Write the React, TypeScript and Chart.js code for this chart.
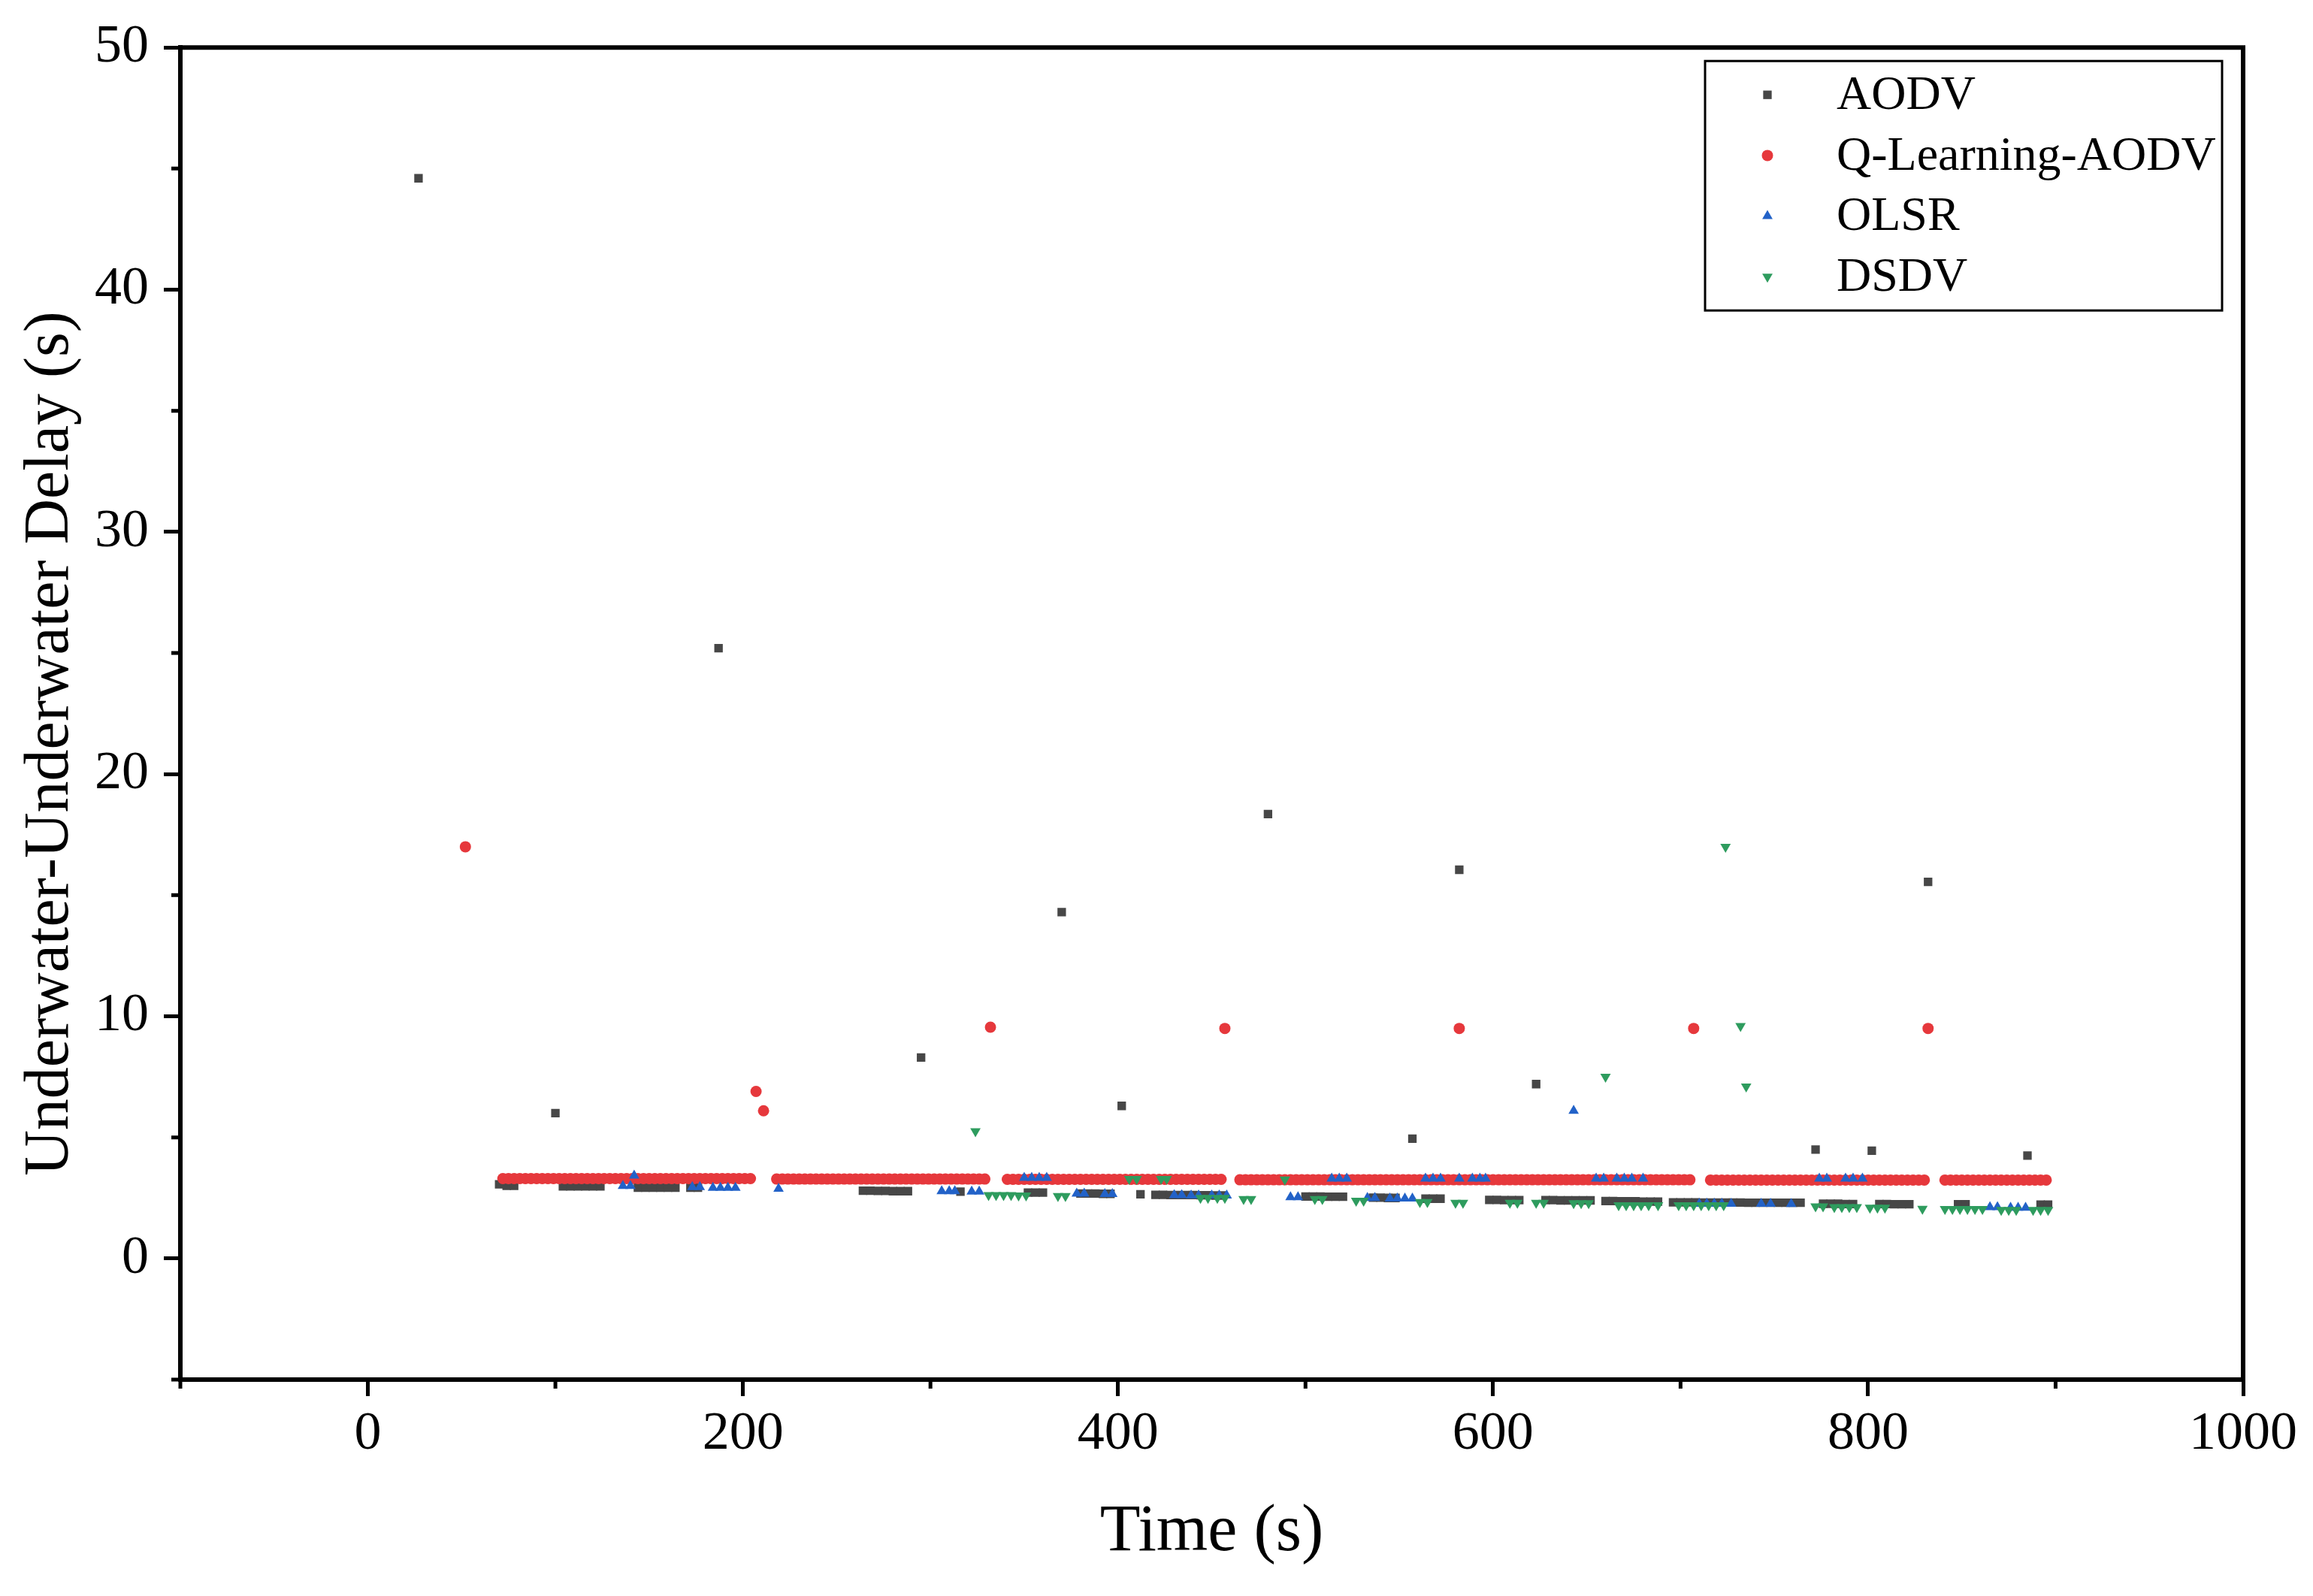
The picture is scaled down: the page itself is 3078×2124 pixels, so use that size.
import { useEffect, useRef } from "react"
import { Chart, registerables, type ChartConfiguration, type Plugin } from "chart.js"
import { drawPoint } from "chart.js/helpers"

Chart.register(...registerables)

// tick values
const xTicks = [0, 200, 400, 600, 800, 1000]
const xMinorTicks = [-100, 100, 300, 500, 700, 900]
const yTicks = [0, 10, 20, 30, 40, 50]
const yMinorTicks = [-5, 5, 15, 25, 35, 45]

// [time (s), delay (s)]
const aodvPoints: number[][] = [
  [27, 44.6], [100, 6.0], [187, 25.2], [295, 8.3], [370, 14.3], [402, 6.3], [480, 18.35],
  [557, 4.95], [582, 16.05], [623, 7.2], [772, 4.5], [802, 4.45], [832, 15.55], [885, 4.25],
  [70, 3.06], [74, 3.0], [78, 3.0],
  [104, 2.98], [108, 2.98], [112, 2.98], [116, 2.98], [120, 2.98], [124, 2.98],
  [144, 2.92], [148, 2.92], [152, 2.92], [156, 2.92], [160, 2.92], [164, 2.92], [172, 2.92], [176, 2.92],
  [264, 2.8], [268, 2.8], [272, 2.79], [276, 2.79], [280, 2.78], [284, 2.78], [288, 2.78],
  [316, 2.76], [352, 2.72], [356, 2.72], [360, 2.72],
  [380, 2.68], [384, 2.68], [388, 2.68], [392, 2.67], [396, 2.67], [412, 2.65],
  [420, 2.63], [424, 2.63], [428, 2.62], [432, 2.62], [436, 2.62], [440, 2.62], [444, 2.61], [448, 2.61],
  [452, 2.6], [456, 2.6],
  [500, 2.56], [504, 2.56], [508, 2.56], [512, 2.55], [516, 2.55], [520, 2.55],
  [536, 2.51], [540, 2.51], [544, 2.5], [548, 2.5], [564, 2.47], [568, 2.47], [572, 2.47],
  [598, 2.42], [602, 2.42], [606, 2.41], [610, 2.41], [614, 2.41],
  [628, 2.41], [632, 2.41], [636, 2.4], [640, 2.4], [644, 2.4], [648, 2.4], [652, 2.4],
  [660, 2.37], [664, 2.37], [668, 2.36], [672, 2.36], [676, 2.36], [680, 2.35], [684, 2.35], [688, 2.35],
  [696, 2.32], [700, 2.32], [704, 2.32], [708, 2.32], [712, 2.31], [716, 2.31], [720, 2.31], [724, 2.31],
  [728, 2.31], [732, 2.31], [736, 2.3], [740, 2.3], [744, 2.3], [748, 2.3], [752, 2.3], [756, 2.3],
  [760, 2.3], [764, 2.3],
  [776, 2.26], [780, 2.26], [784, 2.26], [788, 2.25], [792, 2.25],
  [806, 2.25], [810, 2.25], [814, 2.24], [818, 2.24], [822, 2.24], [848, 2.24], [852, 2.24],
  [892, 2.22], [896, 2.22],
]

// Q-Learning-AODV isolated peaks
const qlAodvPeaks: number[][] = [
  [52, 17.0], [207, 6.9], [211, 6.1], [332, 9.55], [457, 9.5], [582, 9.5], [707, 9.5], [832, 9.5],
]

// Q-Learning-AODV steady runs: sample times per run, and the delay of each run
const qlBandTimes: number[][] = [
  [72, 75, 78, 81, 84, 87, 90, 93, 96, 99, 102, 105, 108, 111, 114, 117, 120, 123, 126, 129, 132, 135,
    138, 141, 144, 147, 150, 153, 156, 159, 162, 165, 168, 171, 174, 177, 180, 183, 186, 189, 192, 195,
    198, 201, 204],
  [218, 221, 224, 227, 230, 233, 236, 239, 242, 245, 248, 251, 254, 257, 260, 263, 266, 269, 272, 275,
    278, 281, 284, 287, 290, 293, 296, 299, 302, 305, 308, 311, 314, 317, 320, 323, 326, 329],
  [341, 344, 347, 350, 353, 356, 359, 362, 365, 368, 371, 374, 377, 380, 383, 386, 389, 392, 395, 398,
    401, 404, 407, 410, 413, 416, 419, 422, 425, 428, 431, 434, 437, 440, 443, 446, 449, 452, 455],
  [465, 468, 471, 474, 477, 480, 483, 486, 489, 492, 495, 498, 501, 504, 507, 510, 513, 516, 519, 522,
    525, 528, 531, 534, 537, 540, 543, 546, 549, 552, 555, 558, 561, 564, 567, 570, 573, 576, 579, 582,
    585, 588, 591, 594, 597, 600, 603, 606, 609, 612, 615, 618, 621, 624, 627, 630, 633, 636, 639, 642,
    645, 648, 651, 654, 657, 660, 663, 666, 669, 672, 675, 678, 681, 684, 687, 690, 693, 696, 699, 702, 705],
  [716, 719, 722, 725, 728, 731, 734, 737, 740, 743, 746, 749, 752, 755, 758, 761, 764, 767, 770, 773,
    776, 779, 782, 785, 788, 791, 794, 797, 800, 803, 806, 809, 812, 815, 818, 821, 824, 827, 830],
  [841, 844, 847, 850, 853, 856, 859, 862, 865, 868, 871, 874, 877, 880, 883, 886, 889, 892, 895],
]
const qlBandDelays = [3.3, 3.28, 3.27, 3.25, 3.24, 3.24]

const olsrPoints: number[][] = [
  [643, 6.1],
  [142, 3.42], [350, 3.33], [354, 3.33], [358, 3.33], [362, 3.33],
  [514, 3.3], [518, 3.3], [522, 3.3], [564, 3.3], [568, 3.3], [572, 3.3], [582, 3.3],
  [589, 3.3], [593, 3.3], [596, 3.3], [655, 3.3], [659, 3.3], [666, 3.3], [670, 3.3], [674, 3.3],
  [680, 3.3], [774, 3.3], [778, 3.3], [788, 3.3], [792, 3.3], [797, 3.3],
  [136, 3.0], [140, 3.0], [173, 2.95], [177, 2.95], [184, 2.92], [188, 2.92], [192, 2.92], [196, 2.92],
  [219, 2.88], [306, 2.78], [310, 2.78], [313, 2.78], [322, 2.76], [326, 2.76],
  [378, 2.68], [382, 2.68], [393, 2.66], [397, 2.66], [430, 2.62], [434, 2.62], [439, 2.6], [443, 2.6],
  [450, 2.6], [454, 2.6], [458, 2.6], [492, 2.53], [496, 2.53], [533, 2.5], [537, 2.5],
  [545, 2.48], [549, 2.48], [553, 2.48], [557, 2.48],
  [710, 2.26], [714, 2.26], [718, 2.26], [722, 2.26], [727, 2.26], [743, 2.26], [748, 2.26], [759, 2.25],
  [865, 2.12], [869, 2.12], [876, 2.1], [880, 2.1], [884, 2.1],
]

const dsdvPoints: number[][] = [
  [324, 5.25], [660, 7.5], [724, 17.0], [732, 9.6], [735, 7.1],
  [406, 3.28], [410, 3.28], [423, 3.28], [426, 3.28], [489, 3.26],
  [331, 2.62], [335, 2.62], [339, 2.62], [343, 2.62], [347, 2.6], [351, 2.6], [368, 2.58], [372, 2.58],
  [444, 2.5], [448, 2.5], [453, 2.5], [457, 2.5], [467, 2.45], [471, 2.45], [505, 2.45], [509, 2.45],
  [527, 2.38], [531, 2.38], [561, 2.33], [565, 2.33], [580, 2.3], [584, 2.3], [609, 2.3], [613, 2.3],
  [623, 2.3], [627, 2.3], [643, 2.28], [647, 2.28], [651, 2.28],
  [667, 2.2], [671, 2.2], [675, 2.2], [679, 2.2], [683, 2.2], [688, 2.2],
  [699, 2.2], [703, 2.2], [707, 2.2], [711, 2.2], [715, 2.2], [719, 2.2], [723, 2.2],
  [772, 2.15], [776, 2.15], [782, 2.12], [786, 2.12], [790, 2.12], [794, 2.12],
  [801, 2.1], [805, 2.1], [809, 2.1], [829, 2.05],
  [841, 2.04], [845, 2.04], [849, 2.04], [853, 2.04], [857, 2.04], [861, 2.04],
  [871, 2.0], [875, 2.0], [879, 2.0], [888, 2.0], [892, 2.0], [896, 2.0],
]

const FONT = '"Liberation Serif", "Times New Roman", serif'
const Y_TITLE = "Underwater-Underwater Delay (s)"

const toXY = (pts: number[][]) => pts.map(([x, y]) => ({ x, y }))

const qlAodvData = [
  ...toXY(qlAodvPeaks),
  ...qlBandTimes.flatMap((times, i) => times.map((x) => ({ x, y: qlBandDelays[i] }))),
]

// frame on top/right, minor ticks and the y title
const framePlugin: Plugin = {
  id: "frame",
  afterDraw(chart) {
    const { ctx, chartArea, scales } = chart
    ctx.save()
    ctx.strokeStyle = "#000"
    ctx.lineWidth = 6
    ctx.beginPath()
    ctx.moveTo(chartArea.left - 3, chartArea.top)
    ctx.lineTo(chartArea.right, chartArea.top)
    ctx.lineTo(chartArea.right, chartArea.bottom + 3)
    ctx.stroke()
    ctx.lineWidth = 5
    ctx.beginPath()
    xMinorTicks.forEach((v) => {
      const px = scales.x.getPixelForValue(v)
      ctx.moveTo(px, chartArea.bottom)
      ctx.lineTo(px, chartArea.bottom + 12)
    })
    yMinorTicks.forEach((v) => {
      const py = scales.y.getPixelForValue(v)
      ctx.moveTo(chartArea.left, py)
      ctx.lineTo(chartArea.left - 12, py)
    })
    ctx.stroke()

    // y title, a little below the middle as in the original figure
    ctx.translate(chartArea.left - 172, (chartArea.top + chartArea.bottom) / 2 + 40)
    ctx.rotate(-Math.PI / 2)
    ctx.fillStyle = "#000"
    ctx.font = `84px ${FONT}`
    ctx.textAlign = "center"
    ctx.textBaseline = "middle"
    ctx.fillText(Y_TITLE, 0, 0)
    ctx.restore()
  },
}

const legendPlugin: Plugin = {
  id: "boxLegend",
  afterDraw(chart) {
    const { ctx, chartArea } = chart
    const left = chartArea.right - 716
    const top = chartArea.top + 18
    ctx.save()
    ctx.fillStyle = "#fff"
    ctx.fillRect(left, top, 688, 332)
    ctx.strokeStyle = "#000"
    ctx.lineWidth = 3
    ctx.strokeRect(left, top, 688, 332)
    ctx.font = `64px ${FONT}`
    ctx.textBaseline = "middle"
    ctx.textAlign = "left"
    chart.data.datasets.forEach((ds: any, i) => {
      const y = top + 45 + i * 80.7
      ctx.fillStyle = ds.backgroundColor
      ctx.strokeStyle = ds.backgroundColor
      drawPoint(
        ctx,
        { pointStyle: ds.pointStyle, rotation: ds.pointRotation || 0, radius: ds.pointRadius, borderWidth: 0 },
        left + 83,
        y,
      )
      ctx.fillStyle = "#000"
      ctx.fillText(ds.label, left + 175, y + 2)
    })
    ctx.restore()
  },
}

export default function App() {
  const canvasRef = useRef<HTMLCanvasElement>(null)

  useEffect(() => {
    document.body.style.margin = "0"
    document.body.style.overflow = "hidden"
    if (!canvasRef.current) return

    const config: ChartConfiguration = {
      type: "scatter",
      data: {
        datasets: [
          {
            label: "AODV",
            data: toXY(aodvPoints),
            backgroundColor: "#474747",
            borderColor: "#474747",
            pointStyle: "rect",
            pointRadius: 8,
            pointBorderWidth: 0,
            order: 4,
          },
          {
            label: "Q-Learning-AODV",
            data: qlAodvData,
            backgroundColor: "#E6383C",
            borderColor: "#E6383C",
            pointStyle: "circle",
            pointRadius: 7.5,
            pointBorderWidth: 0,
            order: 3,
          },
          {
            label: "OLSR",
            data: toXY(olsrPoints),
            backgroundColor: "#2262C8",
            borderColor: "#2262C8",
            pointStyle: "triangle",
            pointRadius: 8,
            pointBorderWidth: 0,
            order: 2,
          },
          {
            label: "DSDV",
            data: toXY(dsdvPoints),
            backgroundColor: "#2E9C5E",
            borderColor: "#2E9C5E",
            pointStyle: "triangle",
            pointRotation: 180,
            pointRadius: 8,
            pointBorderWidth: 0,
            order: 1,
          },
        ],
      },
      options: {
        responsive: false,
        animation: false,
        devicePixelRatio: 1,
        layout: { autoPadding: false, padding: { left: 0, top: 63, right: 93, bottom: 0 } },
        plugins: { legend: { display: false }, tooltip: { enabled: false } },
        scales: {
          x: {
            type: "linear",
            min: -100,
            max: 1000,
            afterBuildTicks: (scale) => {
              scale.ticks = xTicks.map((value) => ({ value }))
            },
            afterFit: (scale) => {
              scale.height = 288
            },
            border: { display: true, color: "#000", width: 6 },
            grid: { drawOnChartArea: false, drawTicks: true, tickLength: 22, tickWidth: 5, tickColor: "#000" },
            ticks: {
              color: "#000",
              padding: 8,
              font: { family: FONT, size: 72 },
              callback: (v) => String(v),
            },
            title: {
              display: true,
              text: "Time (s)",
              color: "#000",
              font: { family: FONT, size: 88 },
              padding: { bottom: 31 },
            },
          },
          y: {
            type: "linear",
            min: -5,
            max: 50,
            afterBuildTicks: (scale) => {
              scale.ticks = yTicks.map((value) => ({ value }))
            },
            afterFit: (scale) => {
              scale.width = 240
            },
            border: { display: true, color: "#000", width: 6 },
            grid: { drawOnChartArea: false, drawTicks: true, tickLength: 22, tickWidth: 5, tickColor: "#000" },
            ticks: {
              color: "#000",
              padding: 20,
              font: { family: FONT, size: 72 },
              callback: (v) => String(v),
            },
            title: { display: false, text: Y_TITLE },
          },
        },
      },
      plugins: [framePlugin, legendPlugin],
    }

    const chart = new Chart(canvasRef.current, config)
    return () => chart.destroy()
  }, [])

  return <canvas ref={canvasRef} width={3078} height={2124} style={{ display: "block" }} />
}
